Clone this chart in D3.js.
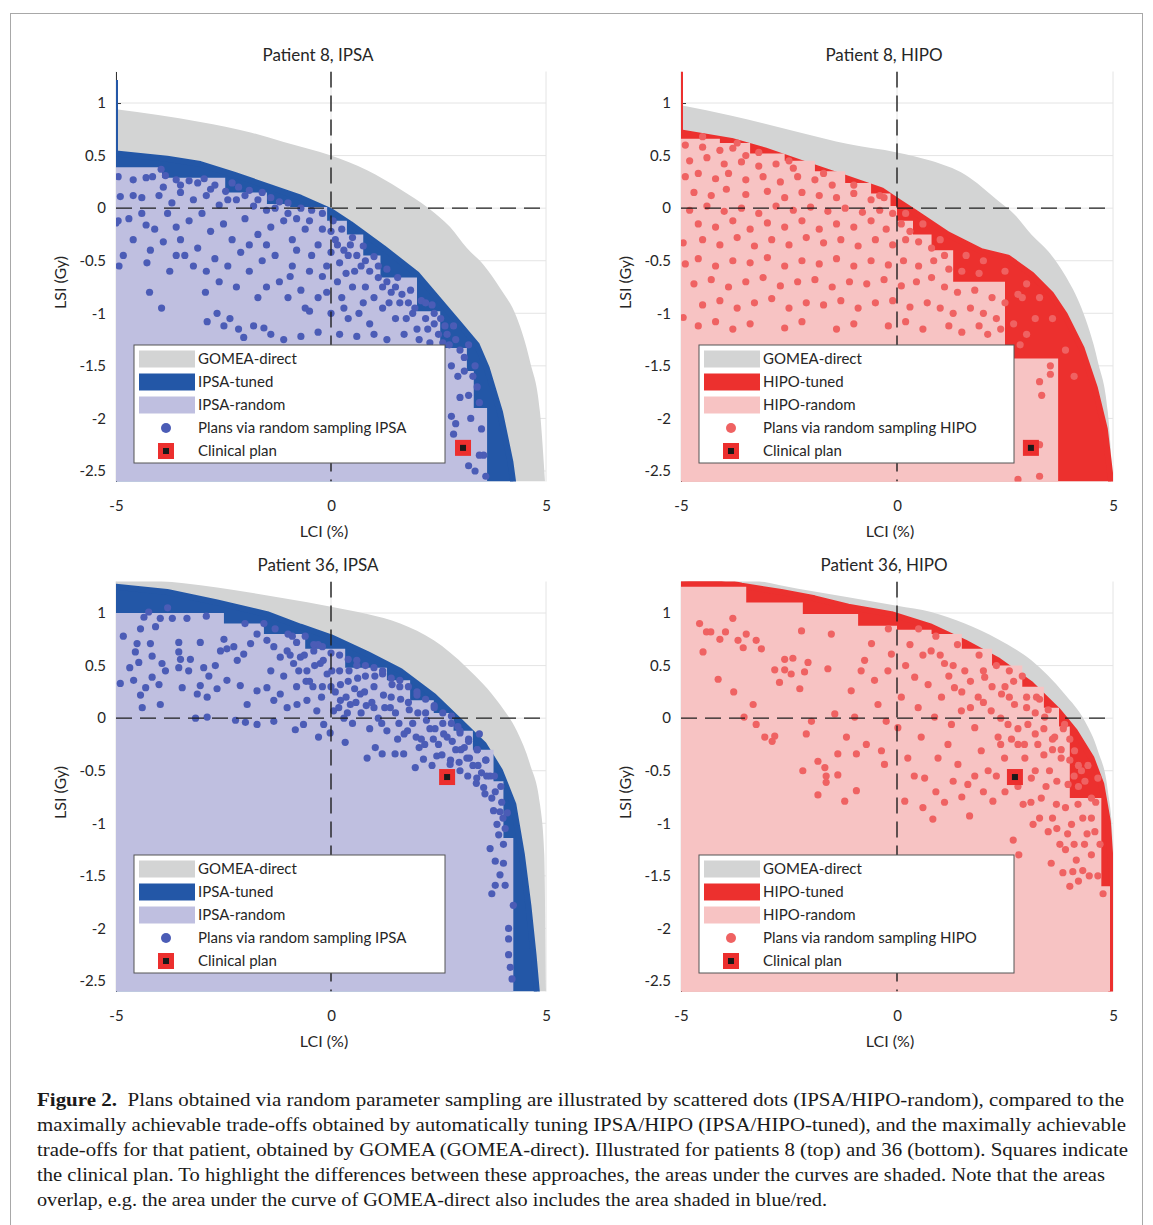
<!DOCTYPE html>
<meta charset="utf-8">
<style>
body { margin: 0; background: #fff; }
svg text { font-family: Lato, "Open Sans", sans-serif; fill: #262626; }
.caption text { font-family: "Liberation Serif", "DejaVu Serif", serif; fill: #1a1a1a; }
</style>
<body>
<svg id="fig" width="1153" height="1225"></svg>

<script src="https://d3js.org/d3.v7.min.js"></script>
<script>
// ---------- data ----------
var xTicks = [-5, 0, 5];
var yTicks = [-2.5, -2, -1.5, -1, -0.5, 0, 0.5, 1];
var legendLabels = ["GOMEA-direct", "-tuned", "-random", "Plans via random sampling ", "Clinical plan"];

// Patient 8, IPSA
var gomeaP8IPSA = [[-5,0.94],[-3.04,0.82],[-1.87,0.72],[-1.1,0.63],[0,0.5],[0.84,0.36],[1.61,0.18],[2.27,0],[2.77,-0.18],[3.16,-0.38],[3.55,-0.54],[3.93,-0.76],[4.32,-1.04],[4.63,-1.46],[4.86,-1.94],[4.98,-2.62]];
var tunedP8IPSA = [[-5,0.52],[-3.81,0.47],[-3.04,0.42],[-2.26,0.32],[-1.49,0.21],[-0.71,0.10],[0,-0.03],[0.45,-0.15],[1.22,-0.38],[2.0,-0.63],[2.54,-0.89],[3.0,-1.11],[3.39,-1.30],[3.62,-1.52],[3.93,-1.94],[4.17,-2.41],[4.24,-2.62]];
var randomP8IPSA = [[-5,0.39],[-3.93,0.29],[-2.46,0.15],[-1.49,0.04],[-0.95,0.01],[-0.09,-0.12],[0.37,-0.25],[0.75,-0.45],[1.15,-0.66],[2.0,-0.98],[2.54,-1.33],[3.16,-1.55],[3.32,-1.9],[3.63,-2.6]];
var clinicalP8IPSA = [3.07, -2.28];
var dotsP8IPSA = [
[-4.95,0.3],[-4.6,0.27],[-4.3,0.29],[-4.15,0.3],[-3.95,0.37],[-3.85,0.31],[-3.6,0.27],[-3.3,0.26],[-3.1,0.24],[-2.95,0.28],[-2.7,0.22],[-2.45,0.16],[-2.3,0.24],[-2.15,0.2],[-1.9,0.17],[-1.6,0.15],[-1.4,0.1],[-1.2,0.06],[-1.0,0.05],[-0.7,0.0],[-0.45,-0.02],[-0.2,-0.05],[0.05,-0.12],[0.25,-0.2],[0.5,-0.28],[0.75,-0.36],[1.0,-0.46],[1.3,-0.58],[1.55,-0.66],[1.85,-0.78],[2.1,-0.88],[2.4,-1.0],[2.65,-1.12],[2.9,-1.25],[3.1,-1.42],[3.3,-1.6],[3.45,-1.85],[3.5,-2.1],[3.55,-2.35],[3.6,-2.55],
[-4.9,0.11],[-4.6,0.12],[-4.4,0.1],[-4.0,0.12],[-3.7,0.05],[-3.5,0.15],[-3.2,0.08],[-2.9,0.12],[-2.6,0.03],[-2.2,0.08],[-1.8,0.02],[-1.5,-0.02],[-4.95,-0.12],[-4.7,-0.1],[-4.3,-0.16],[-4.1,-0.2],[-3.8,-0.05],[-3.6,-0.18],[-3.3,-0.12],[-3.0,-0.05],[-2.8,-0.22],[-2.5,-0.15],[-2.3,-0.3],[-2.0,-0.1],[-1.7,-0.25],[-1.4,-0.18],[-1.1,-0.12],[-0.9,-0.3],[-0.6,-0.2],[-0.3,-0.35],[0.1,-0.3],[0.4,-0.45],[0.7,-0.55],[1.1,-0.66],[1.4,-0.8],[1.8,-0.9],[2.2,-1.05],[2.5,-1.2],
[-4.2,-0.4],[-3.9,-0.32],[-3.4,-0.45],[-3.1,-0.38],[-2.7,-0.48],[-2.4,-0.55],[-2.1,-0.42],[-1.9,-0.6],[-1.6,-0.5],[-1.3,-0.45],[-1.2,-0.7],[-0.9,-0.55],[-0.7,-0.78],[-0.5,-0.6],[-0.3,-0.85],[-0.1,-0.55],[0.15,-0.7],[0.3,-0.95],[0.5,-0.75],[0.75,-0.9],[0.9,-1.1],[1.2,-0.95],[1.5,-1.05],[1.7,-1.2],[2.0,-1.15],[2.3,-1.28],
[-4.22,-0.8],[-3.94,-0.95],[-4.28,-0.52],[-4.93,-0.55],[-4.83,-0.45],[-5.0,-0.14],[-2.92,-0.8],[-2.88,-1.08],[-2.65,-1.0],[-2.49,-1.12],[-2.35,-1.05],[-2.15,-1.15],[-2.03,-1.23],[-1.8,-1.12],[-1.56,-1.14],[-1.4,-1.2],[-1.1,-1.25],[-0.7,-1.22],[-0.3,-1.18],[0.2,-1.2],[0.6,-1.22],[1.0,-1.2],[1.3,-1.25],
[2.8,-1.5],[2.95,-1.6],[3.0,-1.8],[2.8,-1.98],[2.9,-2.05],[3.2,-1.78],[2.85,-2.15],[3.0,-2.3],[3.25,-2.0],[3.2,-2.45],[3.35,-2.5],[3.45,-2.35],
[-0.8,-0.4],[-0.45,-0.45],[-0.2,-0.65],[0.0,-0.42],[0.2,-0.52],[0.35,-0.62],[0.55,-0.6],[-1.5,-0.75],[-1.0,-0.85],[-0.5,-0.98],[0.0,-1.0],[0.4,-1.05],[0.8,-0.75],[1.0,-0.85],[1.3,-0.7],[1.6,-0.9],[1.9,-1.0],[2.2,-0.9],[2.4,-1.1],[2.7,-1.2],[-2.6,-0.7],[-2.2,-0.75],[-1.7,-0.85],[-2.9,-0.6],[-3.2,-0.55],[-3.6,-0.45],
[-3.9,0.2],[-3.5,0.22],[-2.8,0.18],[-2.4,0.08],[-2.0,0.12],[-1.7,0.08],[-1.3,0.0],[-1.0,-0.05],[-0.8,-0.1],[-0.5,-0.12],[-0.2,-0.2],[0.0,-0.22],[0.15,-0.35],[0.3,-0.4],[0.45,-0.35],[0.6,-0.45],[0.8,-0.5],[0.9,-0.6],[1.1,-0.55],[1.2,-0.75],[1.35,-0.9],[1.5,-0.75],[1.65,-0.82],[1.75,-1.05],[1.95,-0.95],[2.05,-1.25],[2.25,-1.15],[2.35,-0.92],[2.55,-1.05],[2.6,-1.28],[2.75,-1.3],[2.85,-1.12],[3.0,-1.35],[3.1,-1.55],[3.2,-1.3],[3.35,-1.5],[3.4,-1.7],[-1.9,-0.35],[-1.5,-0.35],[-0.95,-0.65],[-0.6,-0.95],[-0.1,-0.8],[0.25,-0.85],[0.65,-1.0],[-3.5,-0.3],[-3.75,-0.6],[-4.6,-0.3],[-4.4,-0.05]
];

// Patient 8, HIPO
var gomeaP8HIPO = [[-5,0.98],[-3.83,0.88],[-2.25,0.72],[-1.13,0.61],[0,0.53],[0.79,0.45],[1.57,0.32],[2.34,0.07],[2.72,-0.06],[3.11,-0.25],[3.5,-0.41],[3.88,-0.63],[4.27,-0.95],[4.65,-1.46],[4.88,-1.94],[5.0,-2.62]];
var tunedP8HIPO = [[-5,0.72],[-3.83,0.64],[-3.06,0.55],[-2.14,0.42],[-1.13,0.28],[-0.36,0.17],[0,0.07],[0.41,-0.04],[1.18,-0.25],[1.95,-0.41],[2.57,-0.47],[3.11,-0.63],[3.57,-0.82],[3.88,-1.01],[4.27,-1.33],[4.58,-1.71],[4.81,-2.10],[4.96,-2.62]];
var randomP8HIPO = [[-5,0.66],[-4.1,0.62],[-3.4,0.52],[-2.6,0.45],[-1.9,0.35],[-1.2,0.24],[-0.6,0.14],[-0.15,0.02],[0.0,-0.12],[0.37,-0.25],[0.8,-0.4],[1.3,-0.7],[2.5,-1.43],[3.73,-2.6]];
var clinicalP8HIPO = [3.1, -2.28];
var dotsP8HIPO = [
[-4.9,0.6],[-4.5,0.58],[-4.1,0.55],[-3.8,0.57],[-3.5,0.5],
[-4.8,0.45],[-4.4,0.48],[-4.0,0.42],[-3.6,0.44],[-3.2,0.4],[-2.8,0.42],[-2.4,0.38],
[-4.9,0.3],[-4.6,0.33],[-4.2,0.28],[-3.9,0.33],[-3.5,0.27],[-3.1,0.3],[-2.7,0.25],[-2.3,0.3],[-1.9,0.27],[-1.5,0.22],
[-4.7,0.15],[-4.3,0.12],[-3.95,0.18],[-3.5,0.13],[-3.0,0.16],[-2.6,0.1],[-2.2,0.15],[-1.8,0.12],[-1.4,0.1],[-1.0,0.14],[-0.6,0.08],[-0.3,0.1],
[-4.8,-0.02],[-4.4,0.02],[-4.0,-0.03],[-3.6,0.0],[-3.2,-0.05],[-2.8,0.02],[-2.4,-0.02],[-2.0,0.01],[-1.6,-0.03],[-1.2,0.0],[-0.8,-0.04],[-0.4,-0.02],[-0.1,-0.05],
[-4.6,-0.15],[-4.2,-0.18],[-3.8,-0.12],[-3.4,-0.2],[-3.0,-0.14],[-2.6,-0.18],[-2.2,-0.12],[-1.8,-0.2],[-1.4,-0.15],[-1.0,-0.18],[-0.6,-0.12],[-0.25,-0.2],[0.1,-0.15],[0.3,-0.22],
[-4.95,-0.33],[-4.5,-0.3],[-4.1,-0.35],[-3.7,-0.28],[-3.3,-0.36],[-2.9,-0.3],[-2.5,-0.35],[-2.1,-0.28],[-1.7,-0.33],[-1.3,-0.3],[-0.9,-0.36],[-0.5,-0.3],[-0.1,-0.35],[0.2,-0.3],[0.5,-0.32],[0.8,-0.38],[1.1,-0.45],
[-4.9,-0.53],[-4.6,-0.48],[-4.2,-0.55],[-3.8,-0.5],[-3.4,-0.52],[-3.0,-0.47],[-2.6,-0.55],[-2.2,-0.5],[-1.8,-0.53],[-1.4,-0.48],[-1.0,-0.55],[-0.6,-0.5],[-0.2,-0.54],[0.15,-0.5],[0.5,-0.55],[0.85,-0.5],[1.2,-0.58],[1.5,-0.6],[1.9,-0.62],
[-4.7,-0.72],[-4.3,-0.68],[-3.9,-0.75],[-3.5,-0.7],[-3.1,-0.66],[-2.7,-0.74],[-2.3,-0.7],[-1.9,-0.68],[-1.5,-0.75],[-1.1,-0.7],[-0.7,-0.72],[-0.3,-0.68],[0.1,-0.74],[0.45,-0.7],[0.8,-0.66],[1.1,-0.75],[1.4,-0.8],[1.8,-0.78],[2.2,-0.85],[2.5,-0.9],
[-4.95,-1.04],[-4.5,-0.92],[-4.1,-0.88],[-3.7,-0.95],[-3.3,-0.9],[-2.9,-0.86],[-2.5,-0.95],[-2.1,-0.9],[-1.7,-0.92],[-1.3,-0.88],[-0.9,-0.95],[-0.5,-0.9],[-0.1,-0.88],[0.3,-0.94],[0.7,-0.9],[1.0,-0.95],[1.3,-1.0],[1.7,-0.95],[2.0,-1.0],[2.3,-1.05],[2.7,-1.1],[2.9,-0.85],
[-4.6,-1.12],[-4.2,-1.08],[-3.8,-1.15],[-3.4,-1.1],[-2.6,-1.14],[-2.2,-1.08],[-1.4,-1.15],[-1.0,-1.1],[-0.2,-1.12],[0.2,-1.08],[0.6,-1.15],[1.2,-1.12],[1.5,-1.18],[1.9,-1.12],[2.1,-1.2],[2.4,-1.15],[3.0,-1.2],
[2.85,-1.3],[3.3,-1.65],[3.55,-1.58],[3.35,-1.78],[3.3,-2.25],[3.3,-2.55],[2.8,-2.58],[3.55,-1.5],[2.8,-0.82],[3.2,-1.05],
[-4.5,0.68],[-3.7,0.62],[-3.2,0.53],[-2.5,0.45],[-1.7,0.33],[-1.0,0.22],[-0.4,0.12],[0.2,-0.05],[0.6,-0.15],[1.0,-0.3],[1.6,-0.45],[2.0,-0.5],[2.5,-0.6],[3.0,-0.72],[3.3,-0.85],[3.6,-1.05],[3.9,-1.35],[4.1,-1.6]
];

// Patient 36, IPSA
var gomeaP36IPSA = [[-5,1.33],[-3.81,1.30],[-2.26,1.22],[-1.1,1.14],[0,1.06],[0.84,0.99],[1.61,0.9],[2.39,0.74],[3.16,0.48],[3.93,0.13],[4.32,-0.12],[4.63,-0.44],[4.86,-0.82],[4.96,-1.3],[5.0,-2.62]];
var tunedP36IPSA = [[-5,1.25],[-3.81,1.2],[-2.65,1.1],[-1.49,0.99],[-0.71,0.87],[0,0.77],[0.84,0.61],[1.61,0.45],[2.39,0.21],[3.0,-0.03],[3.55,-0.25],[3.93,-0.5],[4.24,-0.82],[4.44,-1.3],[4.59,-1.78],[4.71,-2.25],[4.79,-2.62]];
var randomP36IPSA = [[-5,1.0],[-2.49,0.9],[-1.56,0.8],[-0.6,0.66],[0.33,0.48],[1.3,0.36],[1.84,0.17],[2.39,0.05],[2.85,-0.12],[3.3,-0.3],[3.78,-0.6],[4.01,-1.14],[4.24,-2.6]];
var clinicalP36IPSA = [2.7, -0.56];
var dotsP36IPSA = [
[-4.35,0.96],[-4.24,1.01],[-4.08,0.87],[-4.43,0.85],[-3.97,0.95],[-3.69,0.95],[-3.35,0.95],[-4.83,0.78],[-4.51,0.71],[-4.2,0.71],[-4.55,0.63],[-4.47,0.53],[-4.68,0.48],[-4.16,0.59],[-3.85,0.45],[-3.93,0.52],[-3.54,0.72],[-3.54,0.63],[-3.5,0.56],[-3.54,0.48],[-3.27,0.56],[-3.31,0.45],[-3.04,0.72],[-2.96,0.48],[-2.84,0.40],[-2.69,0.5],[-2.57,0.64],[-2.49,0.75],[-2.42,0.66],[-2.26,0.68],[-2.18,0.55],[-2.03,0.61],[-1.87,0.71],[-1.72,0.8],[-1.56,0.9],[-1.49,0.74],[-1.33,0.68],[-1.18,0.58],[-1.02,0.64],[-0.87,0.52],[-0.71,0.58],[-0.56,0.45],[-0.4,0.64],[-0.25,0.52],[-0.09,0.42],
[-4.9,0.33],[-4.59,0.36],[-4.31,0.29],[-4.16,0.39],[-4.0,0.32],[-3.97,0.13],[-4.43,0.22],[-4.39,0.1],[-3.46,0.29],[-3.11,0.23],[-3.04,0.31],[-2.88,0.2],[-2.65,0.28],[-2.42,0.36],[-2.11,0.31],[-1.95,0.13],[-1.72,0.26],[-1.49,0.29],[-1.33,0.17],[-1.18,0.23],[-1.02,0.1],[-0.79,0.13],[-0.56,0.17],[-0.33,0.07],[-0.17,-0.06],[0.06,0.07],[0.22,0.17],[0.45,0.13],[0.68,0.23],
[-3.15,0],[-2.88,0.01],[-2.22,-0.02],[-1.99,-0.04],[-1.72,-0.06],[-1.33,-0.03],[-0.83,-0.11],[-0.64,-0.06],[-0.29,-0.18],[-0.02,-0.14],[0.33,-0.23],[0.84,-0.38],[1.03,-0.28],[1.19,-0.34],[1.49,-0.34],[1.69,-0.34],[1.96,-0.47],[2.15,-0.39],[2.46,-0.36],[2.77,-0.44],[3.0,-0.5],[3.16,-0.38],[3.39,-0.57],[3.55,-0.66],[3.74,-0.76],[3.93,-0.89],[3.86,-1.01],[3.9,-1.11],[3.7,-1.24],[4.01,-1.2],[3.82,-1.36],[4.01,-1.38],[3.93,-1.49],[3.82,-1.59],[3.74,-1.67],[4.05,-1.59],[4.24,-1.78],[4.13,-2.0],[4.13,-2.1],[4.13,-2.25],[4.17,-2.37],[4.21,-2.48],
[0.2,0.45],[0.4,0.35],[0.6,0.5],[0.8,0.4],[1.0,0.3],[1.2,0.42],[1.4,0.2],[1.6,0.3],[1.8,0.15],[2.0,0.25],[2.2,0.05],[2.4,0.12],[2.6,-0.05],[2.8,0.02],[3.0,-0.12],[3.2,-0.2],[3.4,-0.3],[3.6,-0.4],[3.7,-0.55],[0.3,0.0],[0.5,-0.05],[0.7,0.05],[0.9,-0.1],[1.1,0.0],[1.3,-0.12],[1.5,0.05],[1.7,-0.15],[1.9,-0.05],[2.1,-0.2],[2.3,-0.1],[2.5,-0.25],[2.7,-0.18],[2.9,-0.3],[3.1,-0.28],[3.3,-0.45],[3.5,-0.52],[0.1,0.25],[0.35,0.2],[0.55,0.28],[0.95,0.15],[1.25,0.1],[1.55,-0.2],[2.05,-0.28],[2.35,-0.45],[2.95,-0.08],[3.45,-0.15],[-0.2,0.3],[-0.5,0.35],[-0.8,0.3],[-1.1,0.4],[-1.4,0.45],[-0.3,0.7],[-0.9,0.78],[-1.3,0.85],[-2.0,0.9],[-2.9,0.97],[-3.8,1.05],
[-1.0,0.8],[-0.95,0.6],[-0.8,0.72],[-0.75,0.45],[-0.6,0.78],[-0.62,0.6],[-0.58,0.35],[-0.4,0.7],[-0.38,0.5],[-0.42,0.3],[-0.2,0.68],[-0.18,0.55],[-0.22,0.2],[0.0,0.62],[0.02,0.45],[0.0,0.3],[0.2,0.6],[0.22,0.32],[0.18,0.1],[0.4,0.56],[0.42,0.45],[0.38,0.05],[0.6,0.55],[0.62,0.38],[0.58,0.15],[0.8,0.5],[0.78,0.25],[0.82,0.12],[1.0,0.48],[1.02,0.4],[1.0,0.1],[1.2,0.45],[1.22,0.22],[1.18,-0.05],[1.4,0.38],[1.42,0.32],[1.38,0.1],[1.6,0.36],[1.62,0.18],[1.58,-0.05],[1.8,0.3],[1.82,0.08],[1.78,-0.12],[2.0,0.22],[2.02,0.05],[1.98,-0.18],[2.2,0.18],[2.22,-0.02],[2.18,-0.25],[2.4,0.1],[2.42,-0.1],[2.38,-0.2],[2.6,0.05],[2.62,-0.15],[2.58,-0.35],[2.8,-0.05],[2.82,-0.22],[2.78,-0.4],[3.0,-0.14],[3.02,-0.3],[2.98,-0.42],[3.2,-0.22],[3.22,-0.38],[3.18,-0.55],[3.4,-0.3],[3.42,-0.45],[3.38,-0.62],[3.6,-0.4],[3.62,-0.55],[3.58,-0.72],[3.8,-0.55],[3.82,-0.7],[3.78,-0.88],[3.95,-0.65],[3.97,-0.8],[4.0,-0.95],[4.05,-1.05],[4.1,-0.9]
];

// Patient 36, HIPO
var gomeaP36HIPO = [[-5,1.36],[-3.6,1.33],[-2.29,1.23],[-1.13,1.15],[0,1.07],[0.79,1.01],[1.57,0.9],[2.34,0.75],[3.11,0.55],[3.88,0.23],[4.35,-0.03],[4.65,-0.31],[4.88,-0.69],[4.99,-1.14],[5.0,-2.62]];
var tunedP36HIPO = [[-5,1.30],[-4.22,1.32],[-3.6,1.26],[-2.68,1.2],[-1.91,1.14],[-1.13,1.06],[-0.13,0.99],[0.79,0.87],[1.57,0.72],[2.34,0.55],[3.11,0.32],[3.73,0.07],[4.11,-0.12],[4.5,-0.38],[4.73,-0.63],[4.88,-0.98],[4.96,-1.46],[4.96,-2.62]];
var randomP36HIPO = [[-5,1.25],[-3.49,1.1],[-2.18,0.99],[-0.9,0.88],[0.0,0.84],[0.8,0.8],[1.5,0.66],[2.2,0.5],[2.9,0.3],[3.4,0.1],[3.75,-0.08],[4.0,-0.76],[4.73,-1.6],[4.93,-2.6]];
var clinicalP36HIPO = [2.73, -0.56];
var dotsP36HIPO = [
[-4.57,0.90],[-4.41,0.82],[-4.31,0.82],[-4.49,0.63],[-4.14,0.37],[-4.10,0.75],[-3.97,0.82],[-3.80,0.95],[-3.78,0.25],[-3.68,0.74],[-3.56,0.67],[-3.49,0.80],[-3.26,0.74],[-3.14,0.66],[-3.33,0.13],[-3.54,0.01],[-3.26,-0.06],[-3.06,-0.18],[-2.89,-0.22],[-2.83,-0.17],[-2.60,0.56],[-2.83,0.46],[-2.72,0.34],[-2.60,0.46],[-2.45,0.42],[-2.41,0.57],[-2.25,0.28],[-2.21,0.83],[-2.18,-0.50],[-2.14,0.44],[-2.06,0.53],[-1.98,-0.03],[-1.83,-0.41],[-1.83,-0.73],[-1.67,-0.47],[-1.64,-0.55],[-1.64,-0.61],[-2.10,-0.15],[-1.60,0.47],[-1.52,0.80],[-1.44,0.04],[-1.37,-0.34],[-1.37,-0.54],[-1.21,-0.79],[-1.17,-0.18],[-1.06,0.26],[-0.98,0.01],[-0.94,-0.34],[-0.94,-0.69],[-0.83,0.45],[-0.75,0.55],[-0.71,-0.25],[-0.59,0.71],[-0.52,0.36],[-0.44,0.13],[-0.36,-0.31],[-0.29,-0.44],[-0.25,-0.03],[-0.21,0.45],[-0.13,0.61],
[0.02,-0.09],[0.10,0.20],[0.18,-0.79],[0.25,-0.38],[0.41,0.39],[0.49,0.10],[0.56,-0.18],[0.64,-0.57],[0.72,0.32],[0.79,0.64],[0.83,-0.96],[0.87,0.01],[0.95,-0.38],[1.03,0.20],[1.10,0.52],[1.18,-0.25],[1.26,-0.06],[1.33,0.29],[1.41,-0.44],[1.49,0.07],[1.57,0.45],[1.64,-0.63],[1.68,-0.93],[1.80,-0.09],[1.88,0.20],[1.95,-0.31],[2.03,0.39],[2.11,-0.50],[2.18,0.07],[2.22,-0.79],[2.34,-0.18],[2.42,0.23],[2.49,-0.38],[2.57,-0.06],[2.65,-0.57],[2.69,-1.16],[2.72,0.13],[2.80,-0.25],[2.82,-1.30],[2.92,-0.82],[2.96,-0.38],[3.03,-0.06],[3.11,-0.57],[3.15,-1.01],[3.23,0.20],[3.26,-0.25],[3.34,-0.76],[3.42,0.01],[3.50,-1.08],[3.53,-0.50],[3.57,-1.38],[3.65,-0.18],[3.69,-0.82],[3.77,-1.20],[3.80,-0.38],[3.84,-1.47],[3.88,-0.06],[3.96,-0.63],[4.04,-1.01],[4.07,-1.46],[4.11,-0.31],[4.19,-0.82],[4.27,-0.50],[4.34,-1.20],[4.42,-0.45],[4.50,-0.76],[4.58,-1.08],[4.65,-0.57],[4.77,-1.67],
[1.2,0.4],[1.5,0.25],[1.7,0.35],[2.0,0.15],[2.2,0.3],[2.4,0.0],[2.6,0.2],[2.8,-0.1],[3.0,0.1],[3.2,-0.15],[3.4,-0.35],[3.6,-0.3],[3.7,-0.6],[3.9,-0.85],[4.0,-0.4],[4.2,-0.65],[4.3,-0.95],[4.4,-1.1],[4.1,-1.2],[3.9,-1.25],[3.6,-0.95],[3.3,-0.95],[3.1,-0.8],[2.8,-0.65],[2.5,-0.7],[2.3,-0.55],[2.0,-0.7],[1.8,-0.55],[1.5,-0.75],[1.3,-0.6],[1.1,-0.8],[0.9,-0.7],[0.6,-0.85],[0.4,-0.55],[3.85,-0.1],[3.5,0.08],[3.3,0.18],[2.9,0.4],[2.6,0.45],[2.3,0.5],[1.9,0.6],[1.4,0.7],[0.9,0.78],[0.5,0.85],[0.3,0.7],[-0.2,0.85],[4.5,-1.3],[4.65,-1.5],[4.7,-1.2],[4.3,-1.45],[4.0,-1.6],
[2.0,0.45],[2.5,0.3],[2.7,0.35],[3.0,0.2],[3.2,0.05],[3.4,-0.1],[3.6,-0.2],[3.8,-0.3],[4.0,-0.2],[4.2,-0.45],[4.35,-0.6],[4.1,-0.55],[3.95,-1.1],[4.15,-1.35],[4.5,-0.95],[4.6,-0.8],[4.45,-1.5],[4.2,-1.55],[3.7,-1.05],[3.45,-0.65],[3.2,-0.5],[2.95,-0.25],[2.65,-0.2],[2.4,-0.25],[1.7,0.1],[1.3,0.5],[1.0,0.6],[0.6,0.6],[0.2,0.5]
];

// ---------- styling ----------
var gomeaColor = "#d3d4d4";
var methodColors = {
  IPSA: {tuned: "#2357a7", random: "#bfbfe0", dot: "#4b5cb6"},
  HIPO: {tuned: "#ec302e", random: "#f7c3c3", dot: "#ef6262"}
};

var panels = [
  {title: "Patient 8, IPSA",  method: "IPSA", gomea: gomeaP8IPSA,  tuned: tunedP8IPSA,  random: randomP8IPSA,  dots: dotsP8IPSA,  clinical: clinicalP8IPSA,  edgeTop: 1.22, left: 116, top: 71.5,  width: 430, legendW: 311},
  {title: "Patient 8, HIPO",  method: "HIPO", gomea: gomeaP8HIPO,  tuned: tunedP8HIPO,  random: randomP8HIPO,  dots: dotsP8HIPO,  clinical: clinicalP8HIPO,  edgeTop: 1.3,  left: 681, top: 71.5,  width: 432, legendW: 315},
  {title: "Patient 36, IPSA", method: "IPSA", gomea: gomeaP36IPSA, tuned: tunedP36IPSA, random: randomP36IPSA, dots: dotsP36IPSA, clinical: clinicalP36IPSA, edgeTop: null, left: 116, top: 581.5, width: 430, legendW: 311},
  {title: "Patient 36, HIPO", method: "HIPO", gomea: gomeaP36HIPO, tuned: tunedP36HIPO, random: randomP36HIPO, dots: dotsP36HIPO, clinical: clinicalP36HIPO, edgeTop: null, left: 681, top: 581.5, width: 432, legendW: 315}
];

var H = 410;
var svg = d3.select("#fig");

// figure frame
svg.append("rect")
  .attr("x", 10.5).attr("y", 13.5)
  .attr("width", 1132).attr("height", 1240)
  .attr("fill", "none").attr("stroke", "#a8a8a8").attr("stroke-width", 1);

function drawPanel(p, i) {
  var col = methodColors[p.method];
  var g = svg.append("g").attr("transform", "translate(" + p.left + "," + p.top + ")");

  var x = d3.scaleLinear().domain([-5, 5]).range([0, p.width]);
  var y = d3.scaleLinear().domain([-2.6, 1.3]).range([H, 0]);

  svg.append("clipPath").attr("id", "clip" + i)
    .append("rect").attr("width", p.width).attr("height", H);

  // grid
  g.selectAll(".hgrid").data(yTicks).enter().append("line")
    .attr("x1", 0).attr("x2", p.width)
    .attr("y1", d => y(d)).attr("y2", d => y(d))
    .attr("stroke", "#e4e4e4");
  g.selectAll(".vgrid").data(xTicks).enter().append("line")
    .attr("x1", d => x(d)).attr("x2", d => x(d))
    .attr("y1", 0).attr("y2", H)
    .attr("stroke", "#e4e4e4");

  // left axis (ticks inward, MATLAB-like)
  g.append("g")
    .call(d3.axisLeft(y).tickValues(yTicks).tickSize(-5).tickSizeOuter(0)
      .tickPadding(10).tickFormat(d => String(d)))
    .attr("color", "#333")
    .attr("font-size", 15);

  // bottom tick labels
  g.append("g")
    .attr("transform", "translate(0," + H + ")")
    .call(d3.axisBottom(x).tickValues(xTicks).tickSize(0).tickPadding(19).tickFormat(d => String(d)))
    .attr("font-size", 15)
    .call(a => a.select(".domain").remove());

  var fg = g.append("g").attr("clip-path", "url(#clip" + i + ")");

  var gomeaArea = d3.area().curve(d3.curveMonotoneX)
    .x(d => x(d[0])).y0(H).y1(d => y(d[1]));
  fg.append("path").datum(p.gomea).attr("d", gomeaArea).attr("fill", gomeaColor);

  var tunedArea = d3.area()
    .x(d => x(d[0])).y0(H).y1(d => y(d[1]));
  fg.append("path").datum(p.tuned).attr("d", tunedArea).attr("fill", col.tuned);
  fg.append("path").datum(p.tuned)
    .attr("d", d3.line().x(d => x(d[0])).y(d => y(d[1])))
    .attr("fill", "none").attr("stroke", col.tuned)
    .attr("stroke-width", 6).attr("stroke-linejoin", "round").attr("stroke-linecap", "round");
  if (p.edgeTop !== null) {
    fg.append("line")
      .attr("x1", x(-5) + 1).attr("x2", x(-5) + 1)
      .attr("y1", y(p.edgeTop)).attr("y2", y(p.tuned[0][1]))
      .attr("stroke", col.tuned).attr("stroke-width", 2);
  }

  var randomArea = d3.area().curve(d3.curveStepAfter)
    .x(d => x(d[0])).y0(H).y1(d => y(d[1]));
  fg.append("path").datum(p.random).attr("d", randomArea).attr("fill", col.random);

  // sampled plans
  fg.selectAll(".dot").data(p.dots).enter().append("circle")
    .attr("cx", d => x(d[0])).attr("cy", d => y(d[1]))
    .attr("r", 3.6).attr("fill", col.dot);

  // zero lines
  fg.append("line")
    .attr("x1", 0).attr("x2", p.width).attr("y1", y(0)).attr("y2", y(0))
    .attr("stroke", "#1e1e1e").attr("stroke-width", 1.4).attr("stroke-dasharray", "16,8");
  fg.append("line")
    .attr("x1", x(0)).attr("x2", x(0)).attr("y1", 0).attr("y2", H)
    .attr("stroke", "#1e1e1e").attr("stroke-width", 1.4).attr("stroke-dasharray", "16,8");

  // clinical plan
  var cx = x(p.clinical[0]), cy = y(p.clinical[1]);
  g.append("rect").attr("x", cx - 8).attr("y", cy - 8).attr("width", 16).attr("height", 16).attr("fill", "#ec2f2e");
  g.append("rect").attr("x", cx - 3).attr("y", cy - 3).attr("width", 6).attr("height", 6).attr("fill", "#1a1a1a");

  // titles and axis labels
  g.append("text").attr("x", p.width / 2 - 13).attr("y", -10.5)
    .attr("text-anchor", "middle").attr("font-size", 17).text(p.title);
  g.append("text").attr("x", p.width / 2 - 7).attr("y", H + 55)
    .attr("text-anchor", "middle").attr("font-size", 16).text("LCI (%)");
  g.append("text").attr("transform", "translate(-56," + (H / 2 + 6) + ") rotate(-90)")
    .attr("text-anchor", "middle").attr("dy", "0.35em").attr("font-size", 16).text("LSI (Gy)");

  // legend
  var lg = g.append("g").attr("transform", "translate(18,273.5)");
  lg.append("rect").attr("width", p.legendW).attr("height", 118)
    .attr("fill", "#fff").attr("stroke", "#555").attr("stroke-width", 1);
  var rows = [14, 37, 60, 83, 106];
  var swatchFill = [gomeaColor, col.tuned, col.random];
  swatchFill.forEach(function (c, k) {
    lg.append("rect").attr("x", 5).attr("y", rows[k] - 8.5).attr("width", 56).attr("height", 17).attr("fill", c);
  });
  lg.append("circle").attr("cx", 32).attr("cy", rows[3]).attr("r", 5).attr("fill", col.dot);
  lg.append("rect").attr("x", 24).attr("y", rows[4] - 8).attr("width", 16).attr("height", 16).attr("fill", "#ec2f2e");
  lg.append("rect").attr("x", 29).attr("y", rows[4] - 3).attr("width", 6).attr("height", 6).attr("fill", "#1a1a1a");
  var labels = [legendLabels[0], p.method + legendLabels[1], p.method + legendLabels[2], legendLabels[3] + p.method, legendLabels[4]];
  labels.forEach(function (t, k) {
    lg.append("text").attr("x", 64).attr("y", rows[k]).attr("dy", "0.35em")
      .attr("font-size", 15).text(t);
  });
}

panels.forEach(drawPanel);

// caption
var captionLines = [
  "Plans obtained via random parameter sampling are illustrated by scattered dots (IPSA/HIPO-random), compared to the",
  "maximally achievable trade-offs obtained by automatically tuning IPSA/HIPO (IPSA/HIPO-tuned), and the maximally achievable",
  "trade-offs for that patient, obtained by GOMEA (GOMEA-direct). Illustrated for patients 8 (top) and 36 (bottom). Squares indicate",
  "the clinical plan. To highlight the differences between these approaches, the areas under the curves are shaded. Note that the areas",
  "overlap, e.g. the area under the curve of GOMEA-direct also includes the area shaded in blue/red."
];
var captionWidths = [1087, 1089, 1091, 1068, 790];
var cap = svg.append("g").attr("class", "caption");
captionLines.forEach(function (t, k) {
  var tx = cap.append("text").attr("x", 37).attr("y", 1106 + k * 25)
    .attr("font-size", 19)
    .attr("textLength", captionWidths[k]).attr("lengthAdjust", "spacingAndGlyphs");
  if (k === 0) {
    tx.append("tspan").attr("font-weight", "bold").text("Figure 2.");
    tx.append("tspan").text("\u00a0\u00a0" + t);
  } else {
    tx.text(t);
  }
});
</script>
</body>
